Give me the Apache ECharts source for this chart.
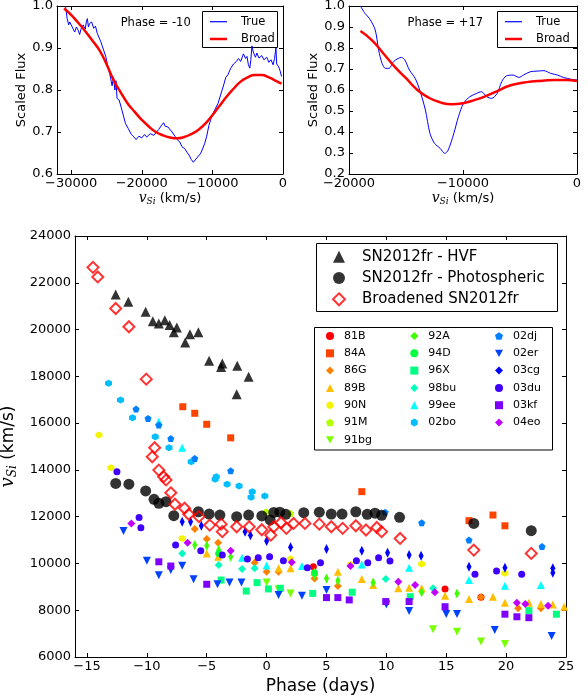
<!DOCTYPE html>
<html>
<head>
	<meta charset="utf-8">
	<title>SN2012fr Si II velocities</title>
	<script src="https://cdn.jsdelivr.net/npm/echarts@6.0.0/dist/echarts.min.js"></script>
	<style>
		html, body { margin: 0; padding: 0; background: #fff; }
		#chart { width: 588px; height: 696px; }
	</style>
</head>
<body>
	<div id="chart"></div>
	<script>
		// ---- inset spectra: [v_Si (km/s), scaled flux] ----
		var trueM10 = [[-30800, 1.0], [-30560, 0.97], [-30350, 0.955], [-30200, 0.962], [-29900, 0.952], [-29700, 0.945], [-29500, 0.938], [-29250, 0.95], [-29000, 0.942], [-28800, 0.932], [-28600, 0.945], [-28300, 0.955], [-28000, 0.945], [-27850, 0.962], [-27700, 0.97], [-27550, 0.95], [-27400, 0.958], [-27100, 0.962], [-26800, 0.947], [-26550, 0.952], [-26300, 0.935], [-25800, 0.915], [-25400, 0.895], [-25100, 0.88], [-24900, 0.864], [-24500, 0.836], [-24200, 0.81], [-24000, 0.83], [-23800, 0.8], [-23650, 0.822], [-23500, 0.78], [-23200, 0.776], [-22800, 0.752], [-22300, 0.72], [-21900, 0.708], [-21500, 0.695], [-21200, 0.69], [-20800, 0.682], [-20400, 0.69], [-20000, 0.686], [-19600, 0.694], [-19300, 0.688], [-18800, 0.696], [-18300, 0.692], [-17900, 0.7], [-17600, 0.706], [-17200, 0.716], [-16900, 0.722], [-16700, 0.714], [-16300, 0.712], [-15700, 0.7], [-15300, 0.69], [-15000, 0.682], [-14600, 0.676], [-14300, 0.665], [-13900, 0.66], [-13600, 0.652], [-13300, 0.645], [-13000, 0.635], [-12700, 0.628], [-12500, 0.632], [-12200, 0.638], [-12000, 0.642], [-11700, 0.648], [-11500, 0.655], [-11100, 0.672], [-10800, 0.69], [-10500, 0.715], [-10100, 0.737], [-9600, 0.755], [-9200, 0.768], [-8800, 0.79], [-8400, 0.812], [-8100, 0.83], [-7800, 0.836], [-7400, 0.852], [-7000, 0.862], [-6600, 0.868], [-6300, 0.875], [-6000, 0.868], [-5600, 0.886], [-5300, 0.875], [-5100, 0.88], [-4900, 0.86], [-4700, 0.852], [-4550, 0.872], [-4400, 0.905], [-4200, 0.89], [-3900, 0.878], [-3700, 0.888], [-3400, 0.876], [-3000, 0.882], [-2700, 0.872], [-2300, 0.878], [-2000, 0.866], [-1700, 0.872], [-1400, 0.86], [-1200, 0.875], [-1000, 0.9], [-900, 0.862], [-600, 0.855], [-400, 0.845], [-200, 0.832]];
		var broadM10 = [[-31000, 0.994], [-30000, 0.979], [-29000, 0.96], [-28000, 0.94], [-27000, 0.918], [-26000, 0.895], [-25000, 0.862], [-24000, 0.824], [-23000, 0.795], [-22000, 0.768], [-21000, 0.748], [-20000, 0.729], [-19000, 0.713], [-18000, 0.7], [-17000, 0.692], [-16000, 0.687], [-15000, 0.685], [-14000, 0.688], [-13000, 0.695], [-12000, 0.705], [-11000, 0.72], [-10000, 0.74], [-9000, 0.762], [-8000, 0.784], [-7000, 0.803], [-6000, 0.82], [-5000, 0.83], [-4000, 0.836], [-3000, 0.836], [-2000, 0.83], [-1000, 0.822], [-200, 0.815]];
		var trueP17 = [[-19000, 1.0], [-18600, 0.965], [-18200, 0.94], [-17700, 0.886], [-17400, 0.79], [-17100, 0.727], [-16800, 0.703], [-16500, 0.703], [-16100, 0.735], [-15700, 0.75], [-15400, 0.755], [-15100, 0.743], [-14700, 0.695], [-14200, 0.656], [-13800, 0.6], [-13300, 0.505], [-12900, 0.394], [-12500, 0.346], [-12000, 0.322], [-11600, 0.298], [-11300, 0.314], [-10800, 0.394], [-10400, 0.473], [-9950, 0.537], [-9400, 0.568], [-8800, 0.584], [-8400, 0.592], [-7900, 0.568], [-7500, 0.56], [-7000, 0.584], [-6600, 0.64], [-6200, 0.667], [-5600, 0.671], [-5100, 0.66], [-4700, 0.671], [-4100, 0.687], [-3500, 0.69], [-2900, 0.692], [-2300, 0.679], [-1700, 0.671], [-1200, 0.66], [-500, 0.651], [0, 0.648]];
		var broadP17 = [[-19000, 0.881], [-18000, 0.838], [-17000, 0.775], [-16000, 0.711], [-15000, 0.656], [-14000, 0.6], [-13000, 0.563], [-12000, 0.541], [-11000, 0.532], [-10000, 0.537], [-9000, 0.552], [-8000, 0.571], [-7000, 0.595], [-6000, 0.619], [-5000, 0.632], [-4000, 0.641], [-3000, 0.644], [-2000, 0.648], [-1000, 0.648], [0, 0.643]];

		// ---- SN2012fr velocities: [phase (days), v_Si (km/s)] ----
		var hvf = [[-12.6, 21500], [-11.55, 21190], [-10.1, 20760], [-9.5, 20360], [-9.0, 20260], [-8.5, 20400], [-8.1, 20190], [-7.75, 19880], [-7.5, 20090], [-6.8, 19450], [-6.4, 19800], [-5.7, 19880], [-4.8, 18670], [-3.8, 18400], [-3.7, 18550], [-2.5, 17230], [-2.45, 18450], [-1.5, 17980]];
		var photo = [[-12.6, 13420], [-11.5, 13390], [-10.1, 13100], [-9.4, 12740], [-9.0, 12570], [-8.4, 12640], [-7.75, 12040], [-5.7, 12210], [-4.8, 12110], [-3.9, 12070], [-2.5, 12000], [-1.5, 12070], [-0.4, 12030], [0.3, 11860], [0.6, 12180], [1.1, 12190], [1.6, 12100], [3.1, 12170], [4.4, 12190], [5.4, 12110], [6.3, 12110], [7.45, 12210], [8.4, 12100], [9.05, 12150], [9.6, 12060], [11.1, 11970], [17.3, 11710], [22.1, 11400]];
		var broadened = [[-14.5, 22660], [-14.1, 22250], [-12.6, 20900], [-11.5, 20120], [-10.05, 17880], [-9.55, 14560], [-9.35, 14950], [-9.0, 13990], [-8.6, 13710], [-8.4, 13570], [-8.0, 13020], [-7.65, 12530], [-6.85, 12360], [-6.5, 12100], [-5.65, 12000], [-4.75, 11640], [-3.8, 11680], [-3.7, 11360], [-2.5, 11570], [-1.45, 11570], [-0.4, 11440], [0.35, 11210], [0.6, 11570], [1.2, 11740], [1.65, 11500], [2.25, 11710], [3.2, 11710], [4.4, 11680], [5.4, 11570], [6.35, 11500], [7.45, 11610], [8.3, 11430], [9.2, 11540], [9.6, 11360], [11.15, 11070], [17.3, 10570], [22.1, 10430]];

		// ---- comparison SNe ----
		var sn81B = [[3.9, 9860], [14.9, 8910], [17.9, 8550]];
		var sn84A = [[-7.0, 16700], [-6.0, 16420], [-5.0, 15950], [-3.0, 15370], [7.95, 13070], [16.9, 11830], [18.9, 12070], [19.9, 11610]];
		var sn86G = [[-6.0, 11470], [-5.0, 11040], [-4.05, 10890], [-1.0, 10030], [0.0, 9650], [1.0, 9650], [4.0, 9360], [5.95, 9040], [17.9, 8550], [21.0, 8080], [22.9, 8080]];
		var sn89B = [[-5.0, 10430], [-4.05, 10290], [1.0, 9790], [2.0, 9790], [4.0, 9650], [5.95, 9650], [7.95, 9330], [8.9, 9080], [11.0, 8940], [11.9, 8960], [12.95, 8940], [14.9, 8620], [16.9, 8480], [18.9, 8580], [19.9, 8320], [21.9, 8320], [22.9, 8270], [23.9, 8250], [24.85, 8150]];
		var sn90N = [[-14.0, 15490], [-13.0, 14090], [-7.05, 11070], [2.0, 10190], [7.0, 9960], [12.95, 9980], [19.9, 9580]];
		var sn91M = [[-0.05, 12210], [2.0, 12140]];
		var sn91bg = [[0.0, 9180], [1.0, 8900], [2.0, 8720], [13.9, 7190], [15.9, 7080], [17.9, 6660], [19.9, 6560]];
		var sn92A = [[-6.0, 10790], [-5.0, 10760], [-4.0, 10570], [-3.0, 10290], [4.0, 9500], [5.0, 9360], [5.95, 9260], [8.9, 9180], [12.95, 8770], [15.9, 8720]];
		var sn94D = [[-4.0, 10420], [4.0, 9600]];
		var sn96X = [[-3.8, 9290], [-1.7, 8820], [-0.8, 9180], [0.15, 8910], [1.15, 8940], [3.85, 8720], [7.15, 8770], [12.0, 8580], [21.9, 7980], [24.2, 7830]];
		var sn98bu = [[-7.05, 10430], [-4.0, 9930], [-2.05, 9760], [-1.0, 9790], [9.95, 9330], [13.9, 8940]];
		var sn99ee = [[-9.0, 16060], [-7.05, 14950], [-2.05, 10240], [0.0, 9910], [2.95, 9890], [7.95, 9960], [11.9, 9820], [16.9, 9290], [19.9, 9050], [22.9, 9080]];
		var sn02bo = [[-13.2, 17700], [-12.2, 16990], [-11.2, 16230], [-9.3, 15420], [-8.15, 14950], [-6.3, 14350], [-4.3, 13600], [-4.2, 13710], [-3.3, 13390], [-2.3, 13310], [-1.2, 13070], [-1.3, 12830], [-0.15, 12880]];
		var sn02dj = [[-10.9, 16600], [-9.9, 16200], [-9.0, 15920], [-8.0, 15340], [-6.0, 14490], [-3.0, 13960], [9.9, 12190], [12.95, 11740], [16.9, 11000], [23.0, 10720]];
		var sn02er = [[-11.95, 11390], [-10.0, 10120], [-9.0, 9500], [-8.0, 9720], [-7.05, 9900], [-6.1, 9320], [-4.1, 9110], [-3.1, 9180], [-2.1, 9180], [1.0, 8650], [2.95, 8620], [5.0, 8860], [10.0, 8250], [11.9, 7970], [15.0, 7840], [15.9, 7840], [19.05, 7150], [23.8, 6900]];
		var sn03cg = [[-7.05, 11780], [-6.35, 11780], [-5.45, 11610], [-1.8, 11360], [-1.35, 11210], [0.0, 10960], [2.0, 10690], [5.0, 10620], [7.95, 10540], [10.1, 10460], [11.9, 10360], [12.9, 10330], [16.9, 9860], [19.9, 9820], [23.9, 9790], [23.9, 9600]];
		var sn03du = [[-12.5, 13920], [-10.65, 11960], [-10.5, 11530], [-7.6, 10790], [-5.5, 10540], [-3.7, 10360], [-1.6, 10190], [-0.7, 10240], [0.25, 10290], [1.4, 10120], [3.4, 9820], [4.5, 10030], [7.5, 10120], [8.45, 10030], [9.35, 10240], [10.3, 10100], [17.4, 9540], [19.2, 9680], [21.3, 9540]];
		var sn03kf = [[-9.0, 10070], [-8.0, 9890], [-5.0, 9110], [5.0, 8540], [5.95, 8540], [6.9, 8440], [9.95, 8370], [11.9, 8370], [14.9, 8150], [19.9, 7830], [20.9, 7720], [21.9, 7680]];
		var sn04eo = [[-11.3, 11710], [-6.6, 10890], [-3.0, 10540], [2.1, 10050], [7.0, 9890], [11.0, 9220], [12.4, 9080], [14.05, 8770], [20.9, 8320], [21.6, 8270], [23.5, 8190]];

		var compNames = ['81B', '84A', '86G', '89B', '90N', '91M', '91bg', '92A', '94D', '96X', '98bu', '99ee', '02bo', '02dj', '02er', '03cg', '03du', '03kf', '04eo'];
		var compData = [sn81B, sn84A, sn86G, sn89B, sn90N, sn91M, sn91bg, sn92A, sn94D, sn96X, sn98bu, sn99ee, sn02bo, sn02dj, sn02er, sn03cg, sn03du, sn03kf, sn04eo];

		// tick labels
		var phaseTicks = [-15, -10, -5, 0, 5, 10, 15, 20, 25];
		var velTicksM10 = [-30000, -20000, -10000, 0];

		// ---- styling ----
		var FONT = 'DejaVu Sans';
		var HEX = 'path://M5,0L9.33,2.5L9.33,7.5L5,10L0.67,7.5L0.67,2.5Z';
		var PENT = 'path://M5,0L9.76,3.45L7.94,9.05L2.06,9.05L0.24,3.45Z';
		var DOWN = 'path://M0,0L10,0L5,9Z';
		var compColors = ['#ff0000', '#ff4400', '#ff8000', '#ffbf00', '#f4f400', '#b4ff00', '#78ff00', '#3cff00', '#00ff3c', '#00ff80', '#00ffbf', '#00ffff', '#00bfff', '#0080ff', '#0040ff', '#0000ff', '#4000ff', '#8000ff', '#c000ff'];
		var compSymbols = ['circle', 'rect', 'diamond', 'triangle', HEX, PENT, DOWN, 'diamond', 'circle', 'rect', 'diamond', 'triangle', HEX, PENT, DOWN, 'diamond', 'circle', 'rect', 'diamond'];
		var compSizes = [7, 7, 8, 8, 7, 7, 8, [5, 10], 7, 7, 8, 8, 7, 7, 8, [5, 10], 7, 7, 8];

		function minusFmt(v) { return String(v).replace('-', '\u2212'); }

		var vsiRich = {
			v: { fontFamily: 'DejaVu Serif', fontStyle: 'italic', fontSize: 14, color: '#000' },
			s: { fontFamily: 'DejaVu Serif', fontStyle: 'italic', fontSize: 9, color: '#000', padding: [6, 0, 0, 0] }
		};
		var vsiRichBig = {
			v: { fontFamily: 'DejaVu Serif', fontStyle: 'italic', fontSize: 18, color: '#000' },
			s: { fontFamily: 'DejaVu Serif', fontStyle: 'italic', fontSize: 12, color: '#000', padding: [8, 0, 0, 0] }
		};

		function xAx(grid, pos, min, max, opt) {
			var a = {
				gridIndex: grid, type: 'value', position: pos, min: min, max: max,
				axisLine: { onZero: false, lineStyle: { color: '#000', width: 1 } },
				axisTick: { inside: true, length: 4, lineStyle: { color: '#000' } },
				axisLabel: { show: pos === 'bottom', margin: 3, fontSize: 13, fontFamily: FONT, color: '#000', formatter: minusFmt },
				splitLine: { show: false }
			};
			if (opt.interval) a.interval = opt.interval;
			if (opt.ticks) {
				a.axisTick.customValues = opt.ticks;
				a.axisLabel.customValues = opt.ticks;
			}
			if (opt.name && pos === 'bottom') {
				a.name = opt.name;
				a.nameLocation = 'middle';
				a.nameGap = opt.nameGap;
				a.nameTextStyle = { fontFamily: FONT, fontSize: opt.nameSize, color: '#000', rich: opt.rich };
			}
			return a;
		}
		function yAx(grid, pos, min, max, interval, fmt, opt) {
			var a = {
				gridIndex: grid, type: 'value', position: pos, min: min, max: max, interval: interval,
				axisLine: { onZero: false, lineStyle: { color: '#000', width: 1 } },
				axisTick: { inside: true, length: 4, lineStyle: { color: '#000' } },
				axisLabel: { show: pos === 'left', margin: 4, fontSize: 13, fontFamily: FONT, color: '#000', formatter: fmt, showMinLabel: true, showMaxLabel: true },
				splitLine: { show: false }
			};
			if (opt && pos === 'left') {
				a.name = opt.name;
				a.nameLocation = 'middle';
				a.nameRotate = 90;
				a.nameGap = opt.nameGap;
				a.nameTextStyle = { fontFamily: FONT, fontSize: opt.nameSize, color: '#000', rich: opt.rich };
			}
			return a;
		}
		var flux = function (v) { return v.toFixed(1); };
		var plain = function (v) { return String(v); };
		var vsiName = '{v|v}{s|Si} (km/s)';

		var xAxes = [
			xAx(0, 'bottom', -32000, 0, { ticks: velTicksM10, name: vsiName, nameGap: 17, nameSize: 13, rich: vsiRich }),
			xAx(0, 'top', -32000, 0, { ticks: velTicksM10 }),
			xAx(1, 'bottom', -20000, 0, { interval: 10000, name: vsiName, nameGap: 17, nameSize: 13, rich: vsiRich }),
			xAx(1, 'top', -20000, 0, { interval: 10000 }),
			xAx(2, 'bottom', -16, 25, { ticks: phaseTicks, name: 'Phase (days)', nameGap: 19, nameSize: 17 }),
			xAx(2, 'top', -16, 25, { ticks: phaseTicks })
		];
		var yAxes = [
			yAx(0, 'left', 0.6, 1.0, 0.1, flux, { name: 'Scaled Flux', nameGap: 27, nameSize: 13 }),
			yAx(0, 'right', 0.6, 1.0, 0.1, flux),
			yAx(1, 'left', 0.2, 1.0, 0.1, flux, { name: 'Scaled Flux', nameGap: 24, nameSize: 13 }),
			yAx(1, 'right', 0.2, 1.0, 0.1, flux),
			yAx(2, 'left', 6000, 24000, 2000, plain, { name: vsiName, nameGap: 44, nameSize: 17, rich: vsiRichBig }),
			yAx(2, 'right', 6000, 24000, 2000, plain)
		];

		var series = [
			{ name: 'True', type: 'line', xAxisIndex: 0, yAxisIndex: 0, data: trueM10, symbol: 'none', lineStyle: { color: '#0000ff', width: 1 }, itemStyle: { color: '#0000ff' } },
			{ name: 'Broad', type: 'line', xAxisIndex: 0, yAxisIndex: 0, data: broadM10, symbol: 'none', smooth: true, lineStyle: { color: '#ff0000', width: 2.5 }, itemStyle: { color: '#ff0000' } },
			{ name: 'True', type: 'line', xAxisIndex: 2, yAxisIndex: 2, data: trueP17, symbol: 'none', smooth: 0.3, lineStyle: { color: '#0000ff', width: 1 }, itemStyle: { color: '#0000ff' } },
			{ name: 'Broad', type: 'line', xAxisIndex: 2, yAxisIndex: 2, data: broadP17, symbol: 'none', smooth: true, lineStyle: { color: '#ff0000', width: 2.5 }, itemStyle: { color: '#ff0000' } }
		];
		for (var i = 0; i < compNames.length; i++) {
			series.push({
				name: compNames[i], type: 'scatter', xAxisIndex: 4, yAxisIndex: 4,
				data: compData[i], symbol: compSymbols[i], symbolSize: compSizes[i],
				itemStyle: { color: compColors[i], opacity: 1 }
			});
		}
		series.push(
			{ name: 'SN2012fr - HVF', type: 'scatter', xAxisIndex: 4, yAxisIndex: 4, data: hvf, symbol: 'triangle', symbolSize: 10, itemStyle: { color: '#000' } },
			{ name: 'SN2012fr - Photospheric', type: 'scatter', xAxisIndex: 4, yAxisIndex: 4, data: photo, symbol: 'circle', symbolSize: 11, itemStyle: { color: '#000' } },
			{ name: 'Broadened SN2012fr', type: 'scatter', xAxisIndex: 4, yAxisIndex: 4, data: broadened, symbol: 'diamond', symbolSize: 11, itemStyle: { color: 'rgba(255,255,255,0)', borderColor: '#ff0000', borderWidth: 2 } }
		);

		function smallLegend(names, left) {
			return {
				data: names, orient: 'vertical', left: left, top: 329.5, padding: 0,
				itemWidth: 8, itemHeight: 8, itemGap: 4.3, selectedMode: false,
				textStyle: { fontFamily: FONT, fontSize: 11, color: '#000', lineHeight: 13, padding: [0, 0, 0, 5] }
			};
		}
		// one legend per line so each handle gets its own thickness
		function lineLegend(name, left, top, thick) {
			return {
				data: [{ name: name, icon: 'rect' }], orient: 'vertical', left: left, top: top, padding: 0,
				itemWidth: 17, itemHeight: thick, selectedMode: false,
				textStyle: { fontFamily: FONT, fontSize: 11.5, color: '#000', lineHeight: 14, padding: [0, 0, 0, 9] }
			};
		}

		var chart = echarts.init(document.getElementById('chart'));
		chart.setOption({
			animation: false,
			backgroundColor: '#fff',
			grid: [
				{ left: 57, right: 305, top: 6, bottom: 522, outerBoundsMode: 'none' },
				{ left: 349, right: 11, top: 6, bottom: 522, outerBoundsMode: 'none' },
				{ left: 75, right: 22, top: 236, bottom: 39, outerBoundsMode: 'none' }
			],
			xAxis: xAxes,
			yAxis: yAxes,
			legend: [
				lineLegend('True', 210, 14.7, 1.2),
				lineLegend('Broad', 210, 32, 2.5),
				lineLegend('True', 505, 14.7, 1.2),
				lineLegend('Broad', 505, 32, 2.5),
				{
					data: ['SN2012fr - HVF', 'SN2012fr - Photospheric', 'Broadened SN2012fr'],
					orient: 'vertical', left: 332, top: 247.7, padding: 0,
					itemWidth: 12, itemHeight: 12, itemGap: 3.3, selectedMode: false,
					textStyle: { fontFamily: FONT, fontSize: 15, color: '#000', lineHeight: 18, padding: [0, 0, 0, 12] }
				},
				smallLegend(compNames.slice(0, 7), 326),
				smallLegend(compNames.slice(7, 13), 410.3),
				smallLegend(compNames.slice(13), 495)
			],
			graphic: [
				{ type: 'rect', z: 3, shape: { x: 202.5, y: 11.5, width: 75, height: 36 }, style: { fill: '#fff', stroke: '#000', lineWidth: 1 } },
				{ type: 'rect', z: 3, shape: { x: 497.5, y: 11.5, width: 80, height: 36 }, style: { fill: '#fff', stroke: '#000', lineWidth: 1 } },
				{ type: 'rect', z: 3, shape: { x: 316.5, y: 243.5, width: 241, height: 68 }, style: { fill: '#fff', stroke: '#000', lineWidth: 1 } },
				{ type: 'rect', z: 3, shape: { x: 314.5, y: 327.5, width: 238, height: 122.5 }, style: { fill: '#fff', stroke: '#000', lineWidth: 1 } },
				{ type: 'text', z: 3, x: 155.7, y: 23.3, style: { text: 'Phase = -10', fontFamily: FONT, fontSize: 11.5, fill: '#000', align: 'center', verticalAlign: 'middle' } },
				{ type: 'text', z: 3, x: 445.3, y: 23.3, style: { text: 'Phase = +17', fontFamily: FONT, fontSize: 11.5, fill: '#000', align: 'center', verticalAlign: 'middle' } }
			],
			series: series
		});
	</script>
</body>
</html>
